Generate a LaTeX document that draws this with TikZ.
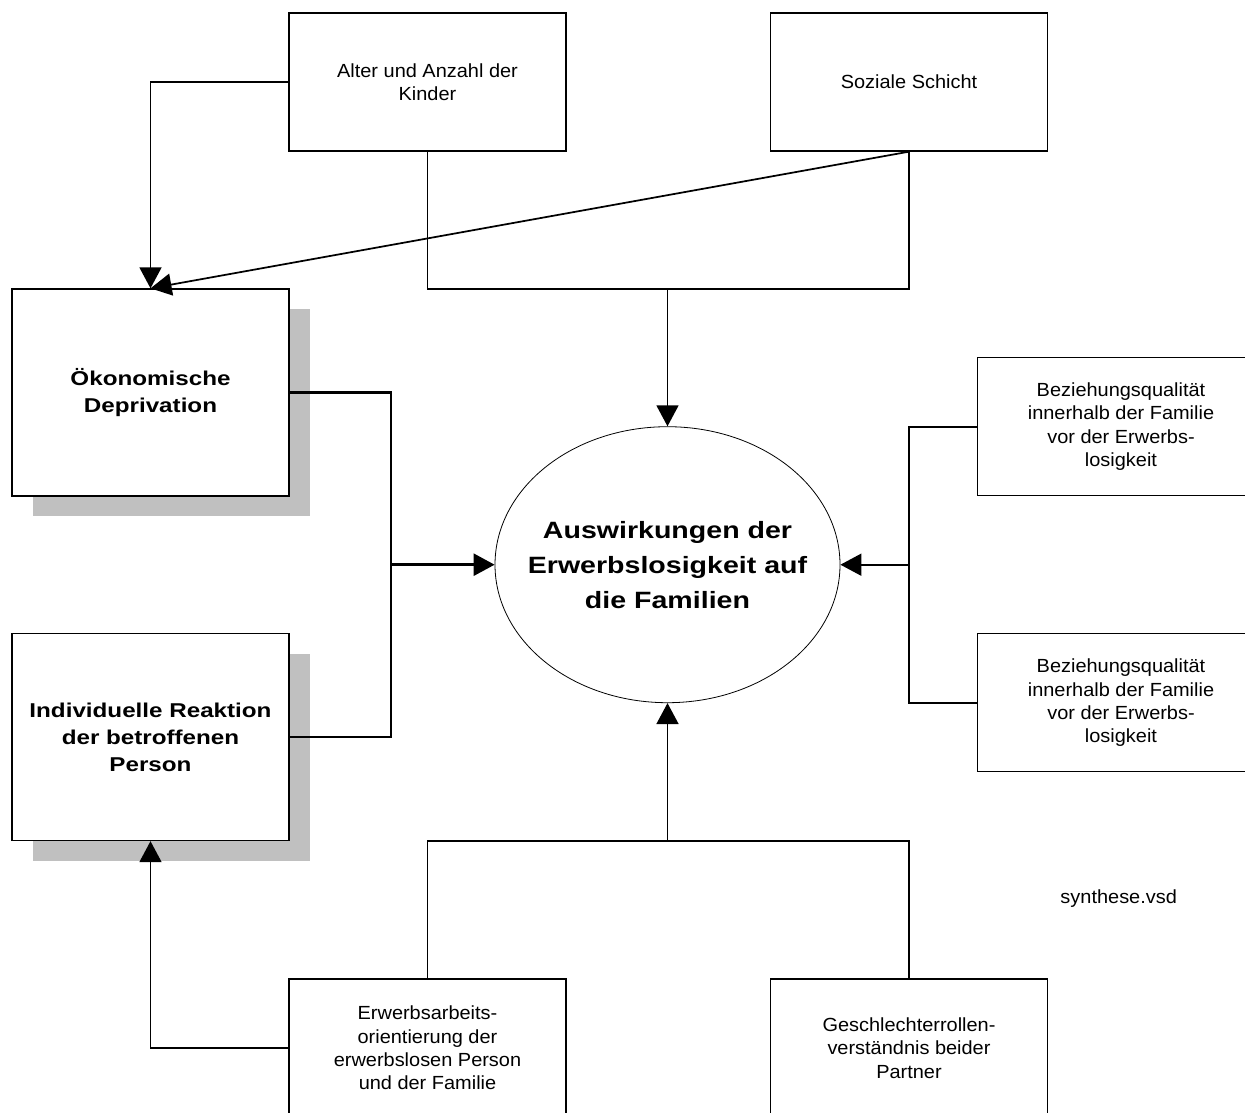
\documentclass[tikz,border=0pt]{standalone}
\usepackage{fontspec}
\usetikzlibrary{arrows.meta,shapes.geometric,shadows}
\newfontfamily\regfont[FakeStretch=1.05]{Liberation Sans}
\newfontfamily\widefont[FakeStretch=1.21]{Liberation Sans}
\definecolor{shadowgray}{RGB}{192,192,192}
\begin{document}
\begin{tikzpicture}[x=0.75pt,y=-0.75pt,
  box/.style={draw, rectangle, line width=1pt, inner sep=0pt, align=center,
    minimum width=207.75pt, minimum height=103.5pt,
    font={\regfont\fontsize{14.25pt}{17.5pt}\selectfont}},
  widebox/.style={box, minimum width=215.25pt},
  bigbox/.style={box, minimum height=155.25pt, fill=white,
    font={\widefont\bfseries\fontsize{15pt}{20.25pt}\selectfont},
    drop shadow={shadow xshift=15.5pt, shadow yshift=-15pt, fill=shadowgray, opacity=1}},
  effect/.style={draw, ellipse, line width=0.6pt, inner sep=0pt,
    minimum width=258.75pt, minimum height=207pt},
  efftext/.style={align=center, inner sep=0pt,
    font={\widefont\bfseries\fontsize{17.7pt}{26.25pt}\selectfont}},
  conn/.style={line width=1.3pt},
  thickconn/.style={line width=2pt},
  tip/.style={-{Triangle[length=15.75pt,width=16.5pt]}},
  note/.style={inner sep=0pt, font={\regfont\fontsize{14.25pt}{17.5pt}\selectfont}}]

\fill[white] (0,0) rectangle (1245,1113);
\useasboundingbox (0,0) rectangle (1245,1113);
\clip (0,0) rectangle (1245,1113);

% influencing factors
\node[box] (alter) at (427.5,82) {Alter und Anzahl der\\Kinder};
\node[box] (soz) at (909,82) {Soziale Schicht};

% mediating boxes with shadow
\node[bigbox] (oeko) at (150.5,392.5) {Ökonomische\\Deprivation};
\node[bigbox] (indiv) at (150.5,737) {Individuelle Reaktion\\der betroffenen\\Person};

% central effect
\node[effect] (eff) at (667.5,564.7) {};
\node[efftext] (efftxt) at (eff.center) {Auswirkungen der\\Erwerbslosigkeit auf\\die Familien};

% relationship quality
\node[widebox] (bez1) at (1121,426.7) {Beziehungsqualität\\innerhalb der Familie\\vor der Erwerbs-\\losigkeit};
\node[widebox] (bez2) at (1121,702.8) {Beziehungsqualität\\innerhalb der Familie\\vor der Erwerbs-\\losigkeit};

% orientation boxes
\node[box] (erw) at (427.5,1048) {Erwerbsarbeits-\\orientierung der\\erwerbslosen Person\\und der Familie};
\node[box] (ges) at (909,1048) {Geschlechterrollen-\\verständnis beider\\Partner};

\node[note] (synth) at (1118.7,899) {synthese.vsd};

% junction points
\coordinate (topj) at (667.5,289);
\coordinate (leftj) at (391,564.7);
\coordinate (rightj) at (909,564.7);
\coordinate (botj) at (667.5,840.7);

% connectors
\draw[conn,tip] (alter.west) -| (oeko.north);
\draw[conn,tip] (soz.south) -- (oeko.north);
\draw[conn] (alter.south) |- (topj) -| (soz.south);
\draw[conn,tip] (topj) -- (eff.north);

\draw[thickconn] (oeko.east) -| (leftj);
\draw[thickconn] (indiv.east) -| (leftj);
\draw[thickconn,tip] (leftj) -- (eff.west);

\draw[conn] (bez1.west) -| (rightj);
\draw[conn] (bez2.west) -| (rightj);
\draw[conn,tip] (rightj) -- (eff.east);

\draw[conn] (erw.north) |- (botj) -| (ges.north);
\draw[conn,tip] (botj) -- (eff.south);

\draw[conn,tip] (erw.west) -| (indiv.south);
\end{tikzpicture}
\end{document}
